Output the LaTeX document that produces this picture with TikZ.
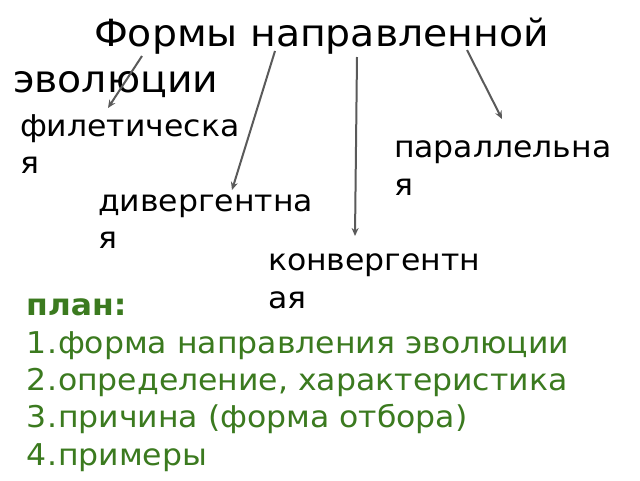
\documentclass[tikz,border=0pt]{standalone}
\usepackage{fontspec}
\setmainfont[FakeStretch=1.05]{DejaVu Sans}
\usetikzlibrary{arrows.meta}
\definecolor{plangreen}{HTML}{3B7A1F}
\definecolor{arrowgray}{HTML}{5A5A5A}
\tikzset{
  txt/.style={anchor=base west, inner sep=0pt, outer sep=0pt},
  title/.style={txt, font=\fontsize{37.5}{37.5}\selectfont},
  lbl/.style={txt, font=\fontsize{30}{30}\selectfont},
  plan/.style={txt, text=plangreen, font=\fontsize{30}{30}\selectfont},
  conn/.style={draw=arrowgray, line width=2pt, -{Stealth[length=8pt,width=7pt]}}
}
\begin{document}
\begin{tikzpicture}[x=1pt,y=-1pt]
\useasboundingbox (0,0) rectangle (640,480);
\fill[white] (0,0) rectangle (640,480);
% title
\node[title] (t1) at (94,46) {Формы направленной};
\node[title] (t2) at (13,92) {эволюции};
% labels
\node[lbl] (f1) at (20,136) {филетическа};
\node[lbl] (f2) at (20,173) {я};
\node[lbl] (p1) at (394,157) {параллельна};
\node[lbl] (p2) at (394,195) {я};
\node[lbl] (d1) at (98,211) {дивергентна};
\node[lbl] (d2) at (98,248) {я};
\node[lbl] (k1) at (268,270) {конвергентн};
\node[lbl] (k2) at (268,308) {ая};
% plan
\node[plan, font=\fontsize{30}{30}\selectfont\bfseries] (pl) at (26,315) {план:};
\node[plan] (n1) at (27,353) {1.};
\node[plan] (i1) at (58,353) {форма направления эволюции};
\node[plan] (n2) at (27,390) {2.};
\node[plan] (i2) at (58,390) {определение, характеристика};
\node[plan] (n3) at (27,427) {3.};
\node[plan] (i3) at (58,427) {причина (форма отбора)};
\node[plan] (n4) at (27,465) {4.};
\node[plan] (i4) at (58,465) {примеры};
% arrow end points
\coordinate (sf) at (142,56);
\coordinate (ef) at (108,108);
\coordinate (sd) at (275,51);
\coordinate (ed) at (232,190);
\coordinate (sk) at (357,57);
\coordinate (ek) at (355,236);
\coordinate (sp) at (467,50);
\coordinate (ep) at (502,119);
\draw[conn] (sf) -- (ef);
\draw[conn] (sd) -- (ed);
\draw[conn] (sk) -- (ek);
\draw[conn] (sp) -- (ep);
\end{tikzpicture}
\end{document}
